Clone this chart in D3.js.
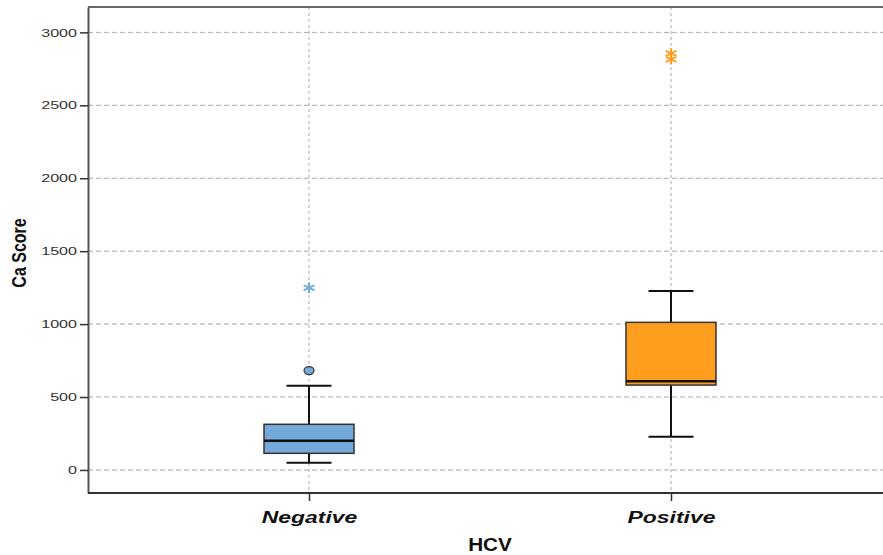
<!DOCTYPE html>
<html><head><meta charset="utf-8">
<script src="https://cdn.jsdelivr.net/npm/d3@7"></script>
<style>body{margin:0;background:#fff}svg{display:block}</style>
</head><body>
<script>
const categories = ["Negative", "Positive"];
const colors = ["#74a9d9", "#ff9d1f"];
const q1 = [114, 582];
const median = [201, 608];
const q3 = [313, 1012];
const whiskerLow = [50, 228];
const whiskerHigh = [578, 1227];
const circleOutliers = [[681], []];
const starOutliers = [[1249], [2856, 2815]];
const yTicks = [0, 500, 1000, 1500, 2000, 2500, 3000];

const W = 883, H = 555;
const L = 88, T = 7, R = 883, B = 493;
const svg = d3.select("body").append("svg").attr("width", W).attr("height", H);

const y = d3.scaleLinear().domain([-158, 3174]).range([B, T]);
const x = d3.scalePoint().domain(categories).range([309, 671]);
const boxW = 90, capW = 45;

// grid
svg.append("g").selectAll("line").data(yTicks).join("line")
  .attr("x1", L).attr("x2", R).attr("y1", d => y(d)).attr("y2", d => y(d))
  .attr("stroke", "#a8a8a8").attr("stroke-width", 1).attr("stroke-dasharray", "5,3");
svg.append("g").selectAll("line").data(categories).join("line")
  .attr("x1", d => x(d)).attr("x2", d => x(d)).attr("y1", T).attr("y2", B)
  .attr("stroke", "#a8a8a8").attr("stroke-width", 1).attr("stroke-dasharray", "3,3");

// frame top
svg.append("line").attr("x1", L).attr("x2", R).attr("y1", T).attr("y2", T)
  .attr("stroke", "#6a6a6a").attr("stroke-width", 2);

// y axis
const yAxis = svg.append("g").attr("transform", `translate(${L},0)`)
  .call(d3.axisLeft(y).tickValues(yTicks).tickFormat(d3.format("d")).tickSize(8).tickPadding(3).tickSizeOuter(0));
yAxis.select(".domain").attr("stroke", "#555").attr("stroke-width", 2);
yAxis.selectAll(".tick line").attr("stroke", "#333").attr("stroke-width", 1.5);
yAxis.selectAll("text").attr("font-family", "Liberation Sans, Arial, sans-serif")
  .attr("font-size", 11.5).attr("fill", "#333")
  .attr("x", 0).attr("transform", "translate(-11,0) scale(1.4,1)");

// x axis
const xAxis = svg.append("g").attr("transform", `translate(0,${B})`)
  .call(d3.axisBottom(x).tickSize(8).tickPadding(6).tickSizeOuter(0));
xAxis.select(".domain").attr("d", `M${L},0H${R}`).attr("stroke", "#333").attr("stroke-width", 2);
xAxis.selectAll(".tick line").attr("stroke", "#333").attr("stroke-width", 1.5);
xAxis.selectAll("text").attr("font-family", "Liberation Sans, Arial, sans-serif")
  .attr("font-size", 17).attr("font-weight", "bold").attr("font-style", "italic").attr("fill", "#111")
  .attr("y", 0).attr("dy", null).attr("transform", "translate(0,30) scale(1.35,1)");

// boxes
const g = svg.append("g");
categories.forEach((c, i) => {
  const cx = x(c);
  g.append("line").attr("x1", cx).attr("x2", cx).attr("y1", y(whiskerHigh[i])).attr("y2", y(q3[i]))
    .attr("stroke", "#111").attr("stroke-width", 2);
  g.append("line").attr("x1", cx).attr("x2", cx).attr("y1", y(q1[i])).attr("y2", y(whiskerLow[i]))
    .attr("stroke", "#111").attr("stroke-width", 2);
  [whiskerHigh[i], whiskerLow[i]].forEach(v => {
    g.append("line").attr("x1", cx - capW / 2).attr("x2", cx + capW / 2).attr("y1", y(v)).attr("y2", y(v))
      .attr("stroke", "#111").attr("stroke-width", 2);
  });
  g.append("rect").attr("x", cx - boxW / 2).attr("width", boxW)
    .attr("y", y(q3[i])).attr("height", y(q1[i]) - y(q3[i]))
    .attr("fill", colors[i]).attr("stroke", "#333").attr("stroke-width", 1.5);
  g.append("line").attr("x1", cx - boxW / 2).attr("x2", cx + boxW / 2).attr("y1", y(median[i])).attr("y2", y(median[i]))
    .attr("stroke", "#111").attr("stroke-width", 2.5);
  circleOutliers[i].forEach(v => {
    g.append("ellipse").attr("cx", cx).attr("cy", y(v)).attr("rx", 5).attr("ry", 4)
      .attr("fill", colors[i]).attr("stroke", "#333").attr("stroke-width", 1.2);
  });
  starOutliers[i].forEach(v => {
    g.append("path").attr("d", d3.symbol(d3.symbolAsterisk, 75)())
      .attr("transform", `translate(${cx},${y(v)}) scale(1.2,1)`)
      .attr("fill", "none").attr("stroke", colors[i]).attr("stroke-width", 1.8);
  });
});

// titles
svg.append("text").attr("x", 0).attr("y", 0).attr("transform", "translate(490,551) scale(1.15,1)").attr("text-anchor", "middle")
  .attr("font-family", "Liberation Sans, Arial, sans-serif").attr("font-weight", "bold").attr("font-size", 18)
  .attr("fill", "#111").text("HCV");
svg.append("text").attr("transform", "translate(26,253) rotate(-90) scale(1,1.3)").attr("text-anchor", "middle")
  .attr("font-family", "Liberation Sans Narrow, Arial Narrow, Liberation Sans, sans-serif").attr("font-weight", "bold").attr("font-size", 16)
  .attr("fill", "#111").text("Ca Score");
</script>
</body></html>
